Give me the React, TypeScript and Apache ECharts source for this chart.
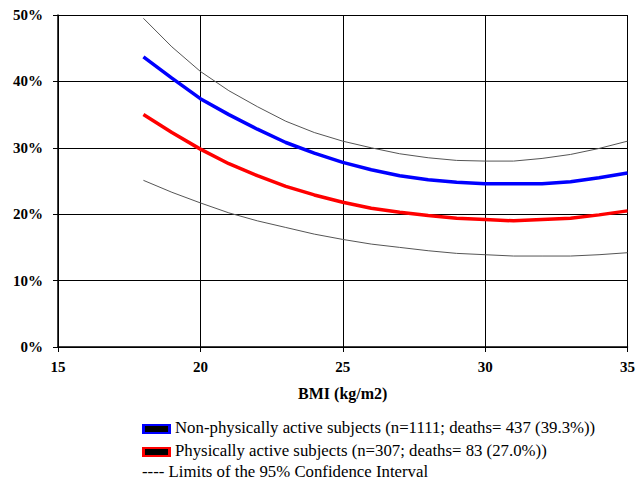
import React, { useEffect, useRef } from "react";
import * as echarts from "echarts";

const bmi = [18, 19, 20, 21, 22, 23, 24, 25, 26, 27, 28, 29, 30, 31, 32, 33, 34, 35];
const nonActive = [43.7, 40.5, 37.4, 35.0, 32.8, 30.8, 29.2, 27.8, 26.7, 25.8, 25.2, 24.8, 24.6, 24.6, 24.6, 24.9, 25.5, 26.2];
const active = [35.0, 32.3, 29.8, 27.6, 25.8, 24.2, 22.9, 21.8, 20.9, 20.3, 19.8, 19.4, 19.2, 19.0, 19.2, 19.4, 19.9, 20.5];
const upperCI = [49.5, 45.2, 41.5, 38.6, 36.2, 34.0, 32.3, 31.0, 30.0, 29.1, 28.5, 28.1, 28.0, 28.0, 28.4, 29.0, 29.9, 31.0];
const lowerCI = [25.1, 23.3, 21.7, 20.2, 19.0, 18.0, 17.0, 16.2, 15.5, 15.0, 14.5, 14.1, 13.9, 13.7, 13.7, 13.7, 13.9, 14.2];

const xTicks = { min: 15, max: 35, interval: 5 };
const yTicks = { min: 0, max: 50, interval: 10 };

const legendItems = [
  { color: "#0000ff", label: "Non-physically active subjects (n=1111; deaths= 437 (39.3%))" },
  { color: "#ff0000", label: "Physically active subjects (n=307; deaths= 83 (27.0%))" },
];
const ciLabel = "---- Limits of the 95% Confidence Interval";
const xName = "BMI (kg/m2)";

const pair = (ys: number[]) => bmi.map((x, i) => [x, ys[i]]);

export default function App() {
  const ref = useRef<HTMLDivElement>(null);
  useEffect(() => {
    if (!ref.current) return;
    const chart = echarts.init(ref.current, null, { renderer: "svg" });
    const font = "Liberation Serif";
    const ciStyle = { color: "#555555", width: 1 };
    const graphics: any[] = [];
    legendItems.forEach((it, i) => {
      const cy = 429 + i * 23;
      graphics.push({ type: "rect", left: 142, top: cy - 5, shape: { width: 29, height: 10 }, style: { fill: it.color } });
      graphics.push({ type: "rect", left: 145, top: cy - 3, shape: { width: 23, height: 6 }, style: { fill: "#000" } });
      graphics.push({
        type: "text", left: 175, top: cy - 10,
        style: { text: it.label, fontFamily: font, fontSize: 16.8, fill: "#000" },
      });
    });
    graphics.push({
      type: "text", left: 142, top: 463,
      style: { text: ciLabel, fontFamily: font, fontSize: 16.8, fill: "#000" },
    });
    chart.setOption({
      animation: false,
      backgroundColor: "#fff",
      grid: { left: 58, right: 9, top: 15, bottom: 139, containLabel: false },
      xAxis: {
        type: "value",
        min: xTicks.min, max: xTicks.max, interval: xTicks.interval,
        name: xName, nameLocation: "middle", nameGap: 38,
        nameTextStyle: { fontFamily: font, fontWeight: "bold", fontSize: 16, color: "#000" },
        axisLine: { show: true, lineStyle: { color: "#000", width: 1.5 } },
        axisTick: { show: true, length: 5, inside: false, lineStyle: { color: "#000" } },
        axisLabel: { fontFamily: font, fontWeight: "bold", fontSize: 15, color: "#000", margin: 12 },
        splitLine: { show: true, lineStyle: { color: "#000", width: 1 } },
      },
      yAxis: {
        type: "value",
        min: yTicks.min, max: yTicks.max, interval: yTicks.interval,
        axisLine: { show: true, lineStyle: { color: "#000", width: 1.5 } },
        axisTick: { show: true, length: 5, inside: false, lineStyle: { color: "#000" } },
        axisLabel: { fontFamily: font, fontWeight: "bold", fontSize: 15, color: "#000", margin: 15, formatter: (v: number) => `${v}%` },
        splitLine: { show: true, lineStyle: { color: "#000", width: 1 } },
      },
      series: [
        { type: "line", data: pair(upperCI), showSymbol: false, lineStyle: ciStyle, itemStyle: { color: "#555" }, z: 3 },
        { type: "line", data: pair(lowerCI), showSymbol: false, lineStyle: ciStyle, itemStyle: { color: "#555" }, z: 3 },
        { type: "line", name: legendItems[0].label, data: pair(nonActive), showSymbol: false, lineStyle: { color: "#0000ff", width: 3.5 }, itemStyle: { color: "#0000ff" }, z: 4 },
        { type: "line", name: legendItems[1].label, data: pair(active), showSymbol: false, lineStyle: { color: "#ff0000", width: 3.5 }, itemStyle: { color: "#ff0000" }, z: 4 },
      ],
      graphic: graphics,
    });
    return () => chart.dispose();
  }, []);
  return <div ref={ref} style={{ position: "absolute", left: 0, top: 0, width: 638, height: 486 }} />;
}
